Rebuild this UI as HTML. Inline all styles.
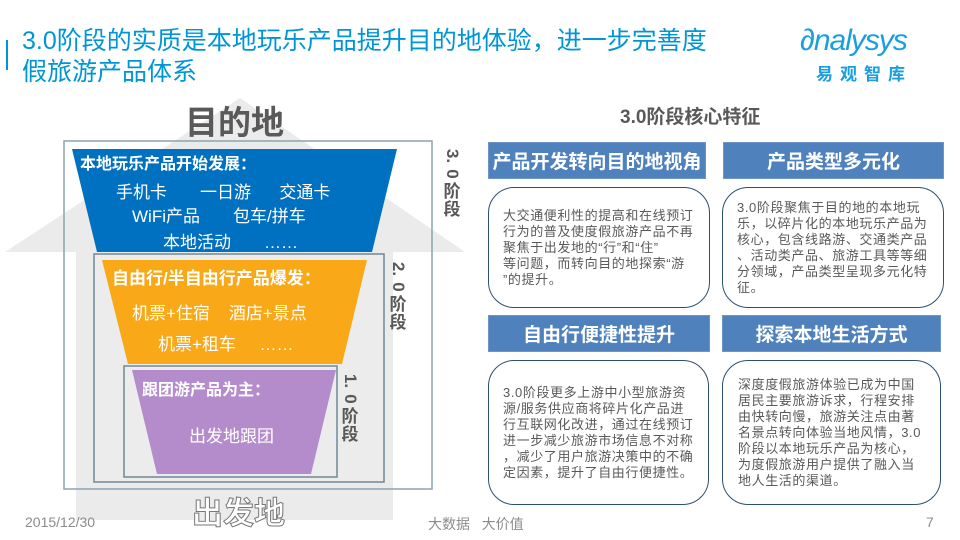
<!DOCTYPE html>
<html><head><meta charset="utf-8"><style>
*{margin:0;padding:0;box-sizing:border-box}
body{width:960px;height:540px;background:#fff;position:relative;overflow:hidden;font-family:"Liberation Sans","Noto Sans CJK SC",sans-serif}
.a{position:absolute}
.hd{position:absolute;background:#4f81bd;color:#fff;font-weight:bold;font-size:19px;display:flex;align-items:center;justify-content:center;border:1px solid #6f95c8}
.bx{position:absolute;border:1.5px solid #2f4f6f;border-radius:26px;color:#595959;font-size:13px;letter-spacing:0.6px;line-height:16px;display:flex;align-items:center;white-space:nowrap}
.vt{position:absolute;font-weight:bold;color:#595959;font-size:17px;line-height:18px;width:20px;text-align:center}
</style></head><body>
<div class="a" style="left:6px;top:40px;width:2px;height:30px;background:#0096d6"></div>
<div class="a" style="left:22px;top:26px;font-size:25px;line-height:31px;color:#0096d6;width:760px">3.0阶段的实质是本地玩乐产品提升目的地体验，进一步完善度<br>假旅游产品体系</div>
<div class="a" style="left:800px;top:24px;font-size:30px;color:#1a9ee0;font-style:italic;letter-spacing:-1px">∂nalysys</div>
<div class="a" style="left:816px;top:60px;font-size:17px;color:#1a9ee0;font-weight:bold;letter-spacing:7px">易观智库</div>

<svg class="a" style="left:0;top:0" width="960" height="540">
<polygon points="5,252 240,98 465,252 393,252 393,520 76,520 76,252" fill="#ebebeb"/>
<rect x="64" y="141" width="368" height="348" fill="none" stroke="#8aa4b0" stroke-width="1.5"/>
<polygon points="72,149 397,149 372,252 97,252" fill="#0070c0"/>
<rect x="94" y="254" width="290" height="228" fill="#ececec" stroke="#6e8a98" stroke-width="1.5"/>
<polygon points="102,260 367,260 342,364 128,364" fill="#f9a818"/>
<rect x="124" y="366" width="213" height="111" fill="#ececec" stroke="#6e8a98" stroke-width="1.5"/>
<polygon points="132,370 336,370 311,474 157,474" fill="#b48ccb"/>
</svg>
<div class="a" style="left:185px;top:96px;font-size:33px;font-weight:bold;color:#595959">目的地</div>
<div class="a" style="left:80px;top:150px;font-size:16px;font-weight:bold;color:#fff">本地玩乐产品开始发展：</div>
<div class="a" style="left:116px;top:178px;font-size:17px;color:#fff;white-space:pre">手机卡       一日游      交通卡</div>
<div class="a" style="left:132px;top:202px;font-size:17px;color:#fff;white-space:pre">WiFi产品       包车/拼车</div>
<div class="a" style="left:163px;top:228px;font-size:17px;color:#fff;white-space:pre">本地活动       ……</div>
<div class="a" style="left:112px;top:264px;font-size:17px;font-weight:bold;color:#fff">自由行/半自由行产品爆发：</div>
<div class="a" style="left:132px;top:299px;font-size:17px;color:#fff;white-space:pre">机票+住宿    酒店+景点</div>
<div class="a" style="left:158px;top:330px;font-size:17px;color:#fff;white-space:pre">机票+租车     ……</div>
<div class="a" style="left:142px;top:376px;font-size:16px;font-weight:bold;color:#fff">跟团游产品为主：</div>
<div class="a" style="left:189px;top:422px;font-size:17px;color:#fff">出发地跟团</div>
<div class="vt" style="left:442px;top:147px"><div style="transform:rotate(90deg)">3.</div><div style="transform:rotate(90deg)">0</div>阶<br>段</div>
<div class="vt" style="left:388px;top:260px"><div style="transform:rotate(90deg)">2.</div><div style="transform:rotate(90deg)">0</div>阶<br>段</div>
<div class="vt" style="left:340px;top:372px"><div style="transform:rotate(90deg)">1.</div><div style="transform:rotate(90deg)">0</div>阶<br>段</div>
<div class="a" style="left:192px;top:488px;font-size:31px;font-weight:bold;color:#fff;-webkit-text-stroke:1px #777">出发地</div>
<div class="a" style="left:25px;top:514px;font-size:14px;color:#8c8c8c">2015/12/30</div>
<div class="a" style="left:428px;top:514px;font-size:14px;color:#8c8c8c">大数据&nbsp;&nbsp;&nbsp;大价值</div>
<div class="a" style="left:926px;top:514px;font-size:14px;color:#8c8c8c">7</div>

<div class="a" style="left:620px;top:102px;font-size:19px;font-weight:bold;color:#595959">3.0阶段核心特征</div>
<div class="hd" style="left:488px;top:142px;width:218px;height:37px">产品开发转向目的地视角</div>
<div class="hd" style="left:723px;top:142px;width:221px;height:37px">产品类型多元化</div>
<div class="hd" style="left:488px;top:315px;width:222px;height:37px">自由行便捷性提升</div>
<div class="hd" style="left:722px;top:315px;width:219px;height:37px">探索本地生活方式</div>
<div class="bx" style="left:488px;top:187px;width:222px;height:121px;padding-left:14px">大交通便利性的提高和在线预订<br>行为的普及使度假旅游产品不再<br>聚焦于出发地的“行”和“住”<br>等问题，而转向目的地探索“游<br>”的提升。</div>
<div class="bx" style="left:722px;top:187px;width:222px;height:121px;padding-left:14px">3.0阶段聚焦于目的地的本地玩<br>乐，以碎片化的本地玩乐产品为<br>核心，包含线路游、交通类产品<br>、活动类产品、旅游工具等等细<br>分领域，产品类型呈现多元化特<br>征。</div>
<div class="bx" style="left:488px;top:360px;width:221px;height:145px;padding-left:14px">3.0阶段更多上游中小型旅游资<br>源/服务供应商将碎片化产品进<br>行互联网化改进，通过在线预订<br>进一步减少旅游市场信息不对称<br>，减少了用户旅游决策中的不确<br>定因素，提升了自由行便捷性。</div>
<div class="bx" style="left:722px;top:360px;width:219px;height:145px;padding-left:15px">深度度假旅游体验已成为中国<br>居民主要旅游诉求，行程安排<br>由快转向慢，旅游关注点由著<br>名景点转向体验当地风情，3.0<br>阶段以本地玩乐产品为核心，<br>为度假旅游用户提供了融入当<br>地人生活的渠道。</div>
</body></html>
